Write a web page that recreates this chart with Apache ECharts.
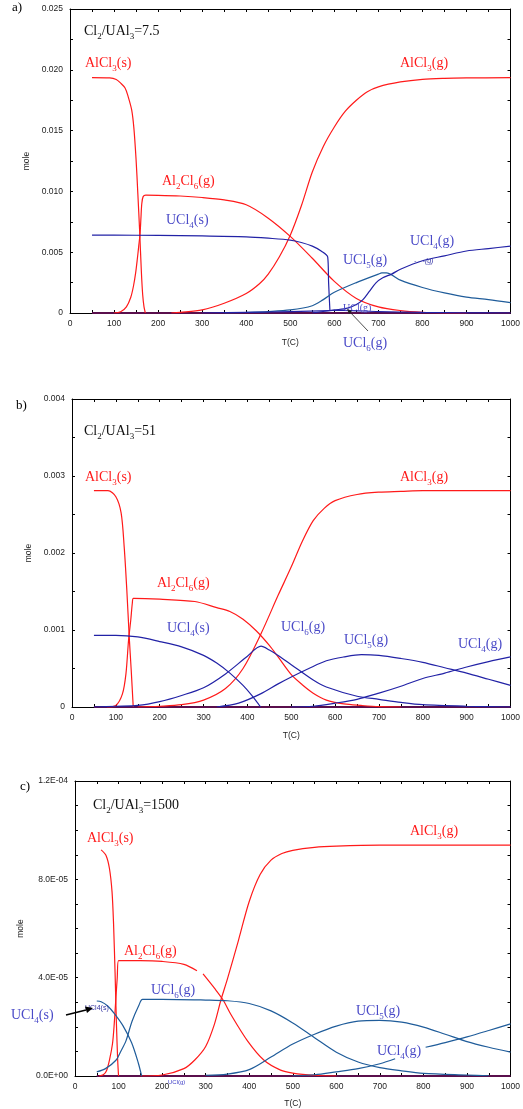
<!DOCTYPE html>
<html><head><meta charset="utf-8">
<script src="https://cdn.jsdelivr.net/npm/echarts@6/dist/echarts.min.js"></script>
<style>html,body{margin:0;padding:0;background:#fff}#c{width:523px;height:1109px}</style>
</head><body><div id="c"></div>
<script>
// ---------- tick labels ----------
const xTicks = [0,100,200,300,400,500,600,700,800,900,1000];
const yTicksA = [0,0.005,0.010,0.015,0.020,0.025];
const yTicksB = [0,0.001,0.002,0.003,0.004];
const yTicksC = [0,4e-5,8e-5,1.2e-4];

// ---------- panel a (Cl2/UAl3 = 7.5) ----------
const aAlCl3s = [[50,0.01935],[90,0.01933],[105,0.0192],[115,0.0189],[125,0.0185],[132,0.0178],[140,0.0167],[145,0.0152],[150,0.0126],[154,0.0098],[158,0.0068],[162,0.0034],[165,0.0015],[168,0.0005],[171,0]];
const aAl2Cl6 = [[100,0],[115,0.0001],[128,0.0005],[138,0.0013],[144,0.0022],[149,0.0033],[153,0.0045],[156,0.0055],[159,0.0065],[161,0.0078],[163,0.009],[166,0.00957],[172,0.00969],[200,0.00968],[250,0.00962],[300,0.0095],[350,0.0093],[400,0.0089],[450,0.0078],[500,0.0063],[550,0.0045],[600,0.0026],[650,0.0012],[700,0.0005],[750,0.0002],[800,0.00006],[850,0.00001],[900,0]];
const aAlCl3g = [[230,0],[250,0.00005],[300,0.00025],[350,0.0008],[400,0.0016],[430,0.0024],[450,0.0032],[475,0.0046],[500,0.0064],[525,0.0088],[550,0.0116],[575,0.0137],[600,0.0153],[625,0.0166],[650,0.0175],[675,0.0182],[700,0.0186],[750,0.0190],[800,0.01922],[850,0.0193],[900,0.01933],[1000,0.01935]];
const aUCl4s = [[50,0.0064],[100,0.0064],[200,0.00638],[300,0.00634],[400,0.00626],[450,0.00615],[500,0.006],[525,0.0058],[550,0.0055],[570,0.0051],[585,0.0046],[587,0.0025],[590,0.0002]];
const aUCl5g = [[350,0],[400,0.00005],[450,0.00012],[500,0.00025],[550,0.0006],[575,0.0011],[600,0.0017],[650,0.0025],[700,0.0032],[708,0.0033],[718,0.0033],[750,0.0027],[800,0.0021],[850,0.00165],[900,0.0013],[950,0.0011],[1000,0.00085]];
const aUCl4g = [[550,0],[600,0.00025],[630,0.0004],[650,0.0007],[665,0.0011],[680,0.0018],[695,0.0025],[710,0.0029],[730,0.0032],[750,0.0036],[800,0.0043],[850,0.0047],[900,0.0051],[950,0.0053],[1000,0.0055]];
const aUCl6g = [[300,0],[400,0.00005],[500,0.00012],[590,0.0002],[620,0.00022],[700,0.00012],[800,0.00005],[900,0.00001],[1000,0]];
const aZero = [[50,0],[1000,0]];

// ---------- panel b (Cl2/UAl3 = 51) ----------
const bAlCl3s = [[50,0.00281],[82,0.00281],[100,0.00273],[112,0.00252],[119,0.00208],[125,0.00152],[130.5,0.00091],[135,0.00048],[139.6,0]];
const bAl2Cl6 = [[80,0],[100,0.00002],[115,0.00017],[123,0.00043],[129,0.00087],[134,0.00113],[137.6,0.00135],[140,0.00141],[200,0.0014],[280,0.00137],[330,0.00129],[360,0.00124],[390,0.00114],[420,0.00099],[450,0.0008],[470,0.00065],[500,0.00042],[525,0.00029],[550,0.00018],[580,0.00009],[620,0.00004],[660,0.00002],[700,0.000005],[750,0]];
const bAlCl3g = [[150,0],[200,0.00001],[250,0.00003],[300,0.00009],[350,0.00024],[390,0.0005],[430,0.00094],[470,0.00145],[500,0.00182],[525,0.00215],[550,0.00242],[575,0.00258],[600,0.00268],[650,0.00276],[700,0.00279],[750,0.0028],[800,0.00281],[1000,0.00281]];
const bUCl4s = [[50,0.00093],[100,0.00093],[150,0.00091],[200,0.00085],[250,0.00078],[300,0.00067],[330,0.00057],[360,0.00044],[390,0.00028],[410,0.00015],[430,0]];
const bUCl6g = [[50,0],[100,0.00001],[150,0.00002],[200,0.00007],[250,0.00015],[300,0.00025],[350,0.00043],[400,0.00066],[431,0.00079],[450,0.00074],[470,0.00067],[500,0.00055],[550,0.00035],[580,0.00026],[650,0.00014],[700,0.0001],[750,0.00006],[800,0.00003],[900,0.00001],[1000,0]];
const bUCl5g = [[330,0],[380,0.00005],[430,0.00017],[470,0.0003],[500,0.00039],[540,0.0005],[580,0.0006],[620,0.00065],[660,0.00068],[700,0.00067],[750,0.00063],[800,0.00058],[850,0.00051],[900,0.00044],[950,0.00036],[1000,0.00028]];
const bUCl4g = [[500,0],[550,0.00001],[600,0.00005],[650,0.0001],[700,0.00018],[750,0.00027],[800,0.00037],[850,0.00044],[900,0.00052],[950,0.00059],[1000,0.00065]];
const bZero = [[50,0],[1000,0]];

// ---------- panel c (Cl2/UAl3 = 1500) ----------
const cAlCl3s = [[60,9.2e-5],[71,8.98e-5],[79,8.45e-5],[85,7.5e-5],[88.5,6.2e-5],[92,4.2e-5],[95,2.2e-5],[98,0.64e-5],[100,0]];
const cAl2Cl6 = [[55,0],[65,0.05e-5],[72,0.2e-5],[79,0.64e-5],[86,1.3e-5],[90,2.1e-5],[94,3.2e-5],[97,4.0e-5],[100,4.69e-5],[150,4.69e-5],[200,4.66e-5],[250,4.54e-5],[280,4.28e-5],[286,'-'],[294,4.15e-5],[321,3.55e-5],[340,3.09e-5],[358,2.5e-5],[396,1.43e-5],[434,0.64e-5],[472,0.24e-5],[500,0.12e-5],[550,0.03e-5],[600,0]];
const cAlCl3g = [[150,0],[200,0.04e-5],[250,0.3e-5],[275,0.65e-5],[300,1.2e-5],[320,2.1e-5],[335,3.09e-5],[350,3.95e-5],[375,5.5e-5],[400,7.1e-5],[425,8.2e-5],[450,8.78e-5],[475,9.05e-5],[500,9.18e-5],[550,9.3e-5],[600,9.35e-5],[700,9.39e-5],[1000,9.39e-5]];
const cUCl4s = [[50,3.05e-5],[60,3.02e-5],[75,2.85e-5],[90,2.55e-5],[110,2.05e-5],[130,1.35e-5],[145,0.55e-5],[153,0]];
const cUCl6g = [[50,0.17e-5],[70,0.3e-5],[94,0.64e-5],[105,1.0e-5],[117,1.43e-5],[131,2.23e-5],[147,2.89e-5],[155,3.12e-5],[200,3.12e-5],[300,3.09e-5],[350,3.06e-5],[400,2.95e-5],[450,2.65e-5],[500,2.16e-5],[550,1.56e-5],[600,0.97e-5],[650,0.57e-5],[700,0.34e-5],[750,0.21e-5],[800,0.11e-5],[900,0.04e-5],[950,0.01e-5]];
const cUCl5g = [[300,0.03e-5],[350,0.08e-5],[400,0.26e-5],[450,0.77e-5],[500,1.3e-5],[550,1.7e-5],[600,2.03e-5],[650,2.23e-5],[700,2.26e-5],[750,2.19e-5],[800,1.99e-5],[850,1.7e-5],[900,1.4e-5],[950,1.17e-5],[1000,0.97e-5]];
const cUCl4g = [[500,0],[550,0.05e-5],[600,0.17e-5],[650,0.3e-5],[700,0.5e-5],[735,0.7e-5],[770,'-'],[805,1.17e-5],[850,1.36e-5],[900,1.59e-5],[950,1.85e-5],[1000,2.12e-5]];
const cZero = [[50,0],[1000,0]];

// ---------- styling ----------
const RED = '#ff1a1a', NAVY = '#2222a6', STEEL = '#1f5c9a', ZERO = '#5a0f4c';
const TXT_BLUE = '#4b4bc8';
const grids = [
  {left:70, top:9, width:441, height:304},
  {left:72, top:399, width:444, height:308},
  {left:75, top:781, width:441, height:302}
];
const yTickSets = [yTicksA, yTicksB, yTicksC];
const yMinor = [2, 2, 4];
const fmtFixed = v => v === 0 ? '0' : v.toFixed(3);
const fmtExp = v => v.toExponential(1).toUpperCase().replace(/E([+-])(\d)$/, 'E$10$2');
const yFmt = [fmtFixed, fmtFixed, fmtExp];
const nameGapY = [35, 35, 36];
const nameGapX = [25, 24, 23];

const tickCol = '#000';
const xAxes = [], yAxes = [];
grids.forEach((g, i) => {
  const common = {
    type:'value', gridIndex:i, min:xTicks[0], max:xTicks[xTicks.length-1], interval:xTicks[1]-xTicks[0],
    axisLine:{show:true, onZero:false, lineStyle:{color:tickCol, width:1}},
    axisTick:{show:true, inside:true, length:3, lineStyle:{color:tickCol}},
    minorTick:{show:true, splitNumber:2, length:3, lineStyle:{color:tickCol}},
    splitLine:{show:false}
  };
  xAxes.push(Object.assign({}, common, {
    position:'bottom',
    axisLabel:{fontSize:8.5, color:'#222', margin:6, fontFamily:'Liberation Sans', formatter: v => String(v)},
    name:'T(C)', nameLocation:'middle', nameGap:nameGapX[i],
    nameTextStyle:{fontSize:8.5, color:'#222', fontFamily:'Liberation Sans'}
  }));
  xAxes.push(Object.assign({}, common, {position:'top', axisLabel:{show:false}}));
  const yt = yTickSets[i];
  const ycommon = {
    type:'value', gridIndex:i, min:yt[0], max:yt[yt.length-1], interval:yt[1]-yt[0],
    axisLine:{show:true, onZero:false, lineStyle:{color:tickCol, width:1}},
    axisTick:{show:true, inside:true, length:3, lineStyle:{color:tickCol}},
    minorTick:{show:true, splitNumber:yMinor[i], length:3, lineStyle:{color:tickCol}},
    splitLine:{show:false}
  };
  yAxes.push(Object.assign({}, ycommon, {
    position:'left',
    axisLabel:{fontSize:8.5, color:'#222', margin:7, fontFamily:'Liberation Sans', formatter:yFmt[i]},
    name:'mole', nameLocation:'middle', nameGap:nameGapY[i], nameRotate:90,
    nameTextStyle:{fontSize:8.5, color:'#222', fontFamily:'Liberation Sans'}
  }));
  yAxes.push(Object.assign({}, ycommon, {position:'right', axisLabel:{show:false}}));
});

function line(name, data, panel, color, width) {
  return {
    name, type:'line', data, xAxisIndex:panel*2, yAxisIndex:panel*2,
    showSymbol:false, symbol:'none', smooth:0.3,
    lineStyle:{color, width:width || 1.2}, itemStyle:{color},
    emphasis:{disabled:true}, silent:true, animation:false
  };
}
const series = [
  line('zeroA', aZero, 0, ZERO, 2.2),
  line('AlCl3(s)', aAlCl3s, 0, RED), line('Al2Cl6(g)', aAl2Cl6, 0, RED), line('AlCl3(g)', aAlCl3g, 0, RED),
  line('UCl4(s)', aUCl4s, 0, NAVY), line('UCl5(g)', aUCl5g, 0, STEEL), line('UCl4(g)', aUCl4g, 0, NAVY), line('UCl6(g)', aUCl6g, 0, NAVY),
  line('zeroB', bZero, 1, ZERO, 2.2),
  line('AlCl3(s)', bAlCl3s, 1, RED), line('Al2Cl6(g)', bAl2Cl6, 1, RED), line('AlCl3(g)', bAlCl3g, 1, RED),
  line('UCl4(s)', bUCl4s, 1, NAVY), line('UCl6(g)', bUCl6g, 1, NAVY), line('UCl5(g)', bUCl5g, 1, NAVY), line('UCl4(g)', bUCl4g, 1, NAVY),
  line('zeroC', cZero, 2, ZERO, 2.2),
  line('AlCl3(s)', cAlCl3s, 2, RED), line('Al2Cl6(g)', cAl2Cl6, 2, RED), line('AlCl3(g)', cAlCl3g, 2, RED),
  line('UCl4(s)', cUCl4s, 2, STEEL), line('UCl6(g)', cUCl6g, 2, STEEL), line('UCl5(g)', cUCl5g, 2, STEEL), line('UCl4(g)', cUCl4g, 2, STEEL)
];

// ---------- annotations ----------
const SERIF = 'Liberation Serif';
function rich(fs) {
  return {
    n:{fontSize:fs, fontFamily:SERIF, lineHeight:fs+3, verticalAlign:'top'},
    s:{fontSize:Math.round(fs*0.66), fontFamily:SERIF, lineHeight:Math.round(fs*0.66), verticalAlign:'bottom'}
  };
}
function label(x, y, text, color, fs) {
  return {type:'text', x, y, z:100, silent:true,
    style:{text, rich:rich(fs || 14), fill:color, align:'left', verticalAlign:'middle'}};
}
function plain(x, y, text, color, fs, family, style) {
  return {type:'text', x, y, z:100, silent:true,
    style:{text, fill:color, fontSize:fs, fontFamily:family || SERIF, fontStyle:style || 'normal', align:'left', verticalAlign:'middle'}};
}
const AlCl3s = '{n|AlCl}{s|3}{n|(s)}', AlCl3g = '{n|AlCl}{s|3}{n|(g)}', Al2Cl6 = '{n|Al}{s|2}{n|Cl}{s|6}{n|(g)}';
const U4s = '{n|UCl}{s|4}{n|(s)}', U4g = '{n|UCl}{s|4}{n|(g)}', U5g = '{n|UCl}{s|5}{n|(g)}', U6g = '{n|UCl}{s|6}{n|(g)}';
const graphic = [
  plain(12, 8, 'a)', '#000', 13),
  label(84, 33, '{n|Cl}{s|2}{n|/UAl}{s|3}{n|=7.5}', '#111', 14),
  label(85, 65, AlCl3s, RED), label(400, 65, AlCl3g, RED),
  label(162, 183, Al2Cl6, RED), label(166, 222, U4s, TXT_BLUE),
  label(410, 243, U4g, TXT_BLUE), label(343, 262, U5g, TXT_BLUE),
  plain(414, 261, '- - -(g)', '#3a3aa8', 7, 'Liberation Sans', 'italic'),
  plain(343, 308, 'UCl(g)', TXT_BLUE, 10),
  label(343, 345, U6g, TXT_BLUE),
  {type:'line', z:100, silent:true, shape:{x1:368, y1:331, x2:349, y2:311}, style:{stroke:'#222', lineWidth:0.8}},
  {type:'polygon', z:100, silent:true, shape:{points:[[347,309],[352,311],[349,314]]}, style:{fill:'#222'}},

  plain(16, 406, 'b)', '#000', 13),
  label(84, 433, '{n|Cl}{s|2}{n|/UAl}{s|3}{n|=51}', '#111', 14),
  label(85, 479, AlCl3s, RED), label(400, 479, AlCl3g, RED),
  label(157, 585, Al2Cl6, RED), label(167, 630, U4s, TXT_BLUE),
  label(281, 629, U6g, TXT_BLUE), label(344, 642, U5g, TXT_BLUE),
  label(458, 646, U4g, TXT_BLUE),

  plain(20, 787, 'c)', '#000', 13),
  label(93, 807, '{n|Cl}{s|2}{n|/UAl}{s|3}{n|=1500}', '#111', 14),
  label(87, 840, AlCl3s, RED), label(410, 833, AlCl3g, RED),
  label(124, 953, Al2Cl6, RED), label(151, 992, U6g, TXT_BLUE),
  label(11, 1017, U4s, TXT_BLUE),
  label(356, 1013, U5g, TXT_BLUE), label(377, 1053, U4g, TXT_BLUE),
  plain(85, 1008, 'UCl4(s)', '#3030a0', 7, 'Liberation Sans'),
  plain(168, 1082, 'UCl(g)', '#4040c8', 6, 'Liberation Sans'),
  {type:'line', z:100, silent:true, shape:{x1:66, y1:1015, x2:86, y2:1010}, style:{stroke:'#000', lineWidth:1.6}},
  {type:'polygon', z:100, silent:true, shape:{points:[[93,1008],[85,1006.5],[87,1013]]}, style:{fill:'#000'}}
];

const chart = echarts.init(document.getElementById('c'), null, {renderer:'canvas'});
chart.setOption({
  animation:false,
  backgroundColor:'#fff',
  grid: grids.map(g => Object.assign({containLabel:false}, g)),
  xAxis: xAxes, yAxis: yAxes,
  series, graphic
});
</script></body></html>
